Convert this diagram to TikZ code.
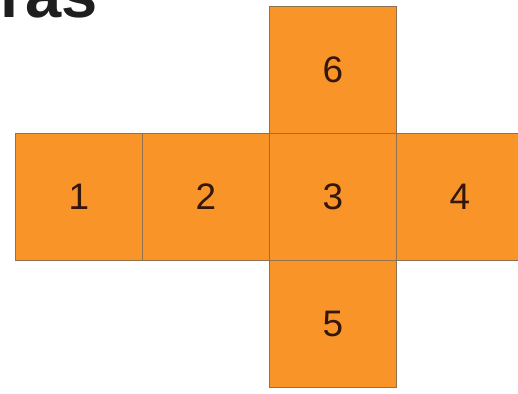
\documentclass[tikz,border=0pt]{standalone}
\usepackage{fontspec}
\setmainfont{Liberation Sans}
\usetikzlibrary{positioning}

\definecolor{faceorange}{RGB}{248,148,40}
\definecolor{faceedge}{RGB}{145,112,78}
\definecolor{facetext}{RGB}{52,22,10}
\definecolor{titlegray}{RGB}{30,30,30}

\begin{document}
\begin{tikzpicture}[
  x=0.02cm,
  y=-0.02cm,
  face/.style={draw=faceedge, line width=0.7pt, fill=faceorange, minimum size=2.54cm,
    inner sep=0pt, text=facetext, font=\fontsize{21}{25}\selectfont},
  title/.style={text=titlegray, font=\fontsize{37}{42}\selectfont\bfseries, inner sep=0pt}
]
  \useasboundingbox (0,0) rectangle (518,393);
  \clip (0,0) rectangle (518,393);

  \node[title, anchor=base east] (head) at (98,17) {ras};

  % row of faces
  \node[face] (f1) at (79,197) {1};
  \node[face] (f2) at (206,197) {2};
  \node[face] (f3) at (333,197) {3};
  \node[face] (f4) at (460,197) {4};

  % top and bottom faces
  \node[face] (f6) at (333,70) {6};
  \node[face] (f5) at (333,324) {5};
\end{tikzpicture}
\end{document}
